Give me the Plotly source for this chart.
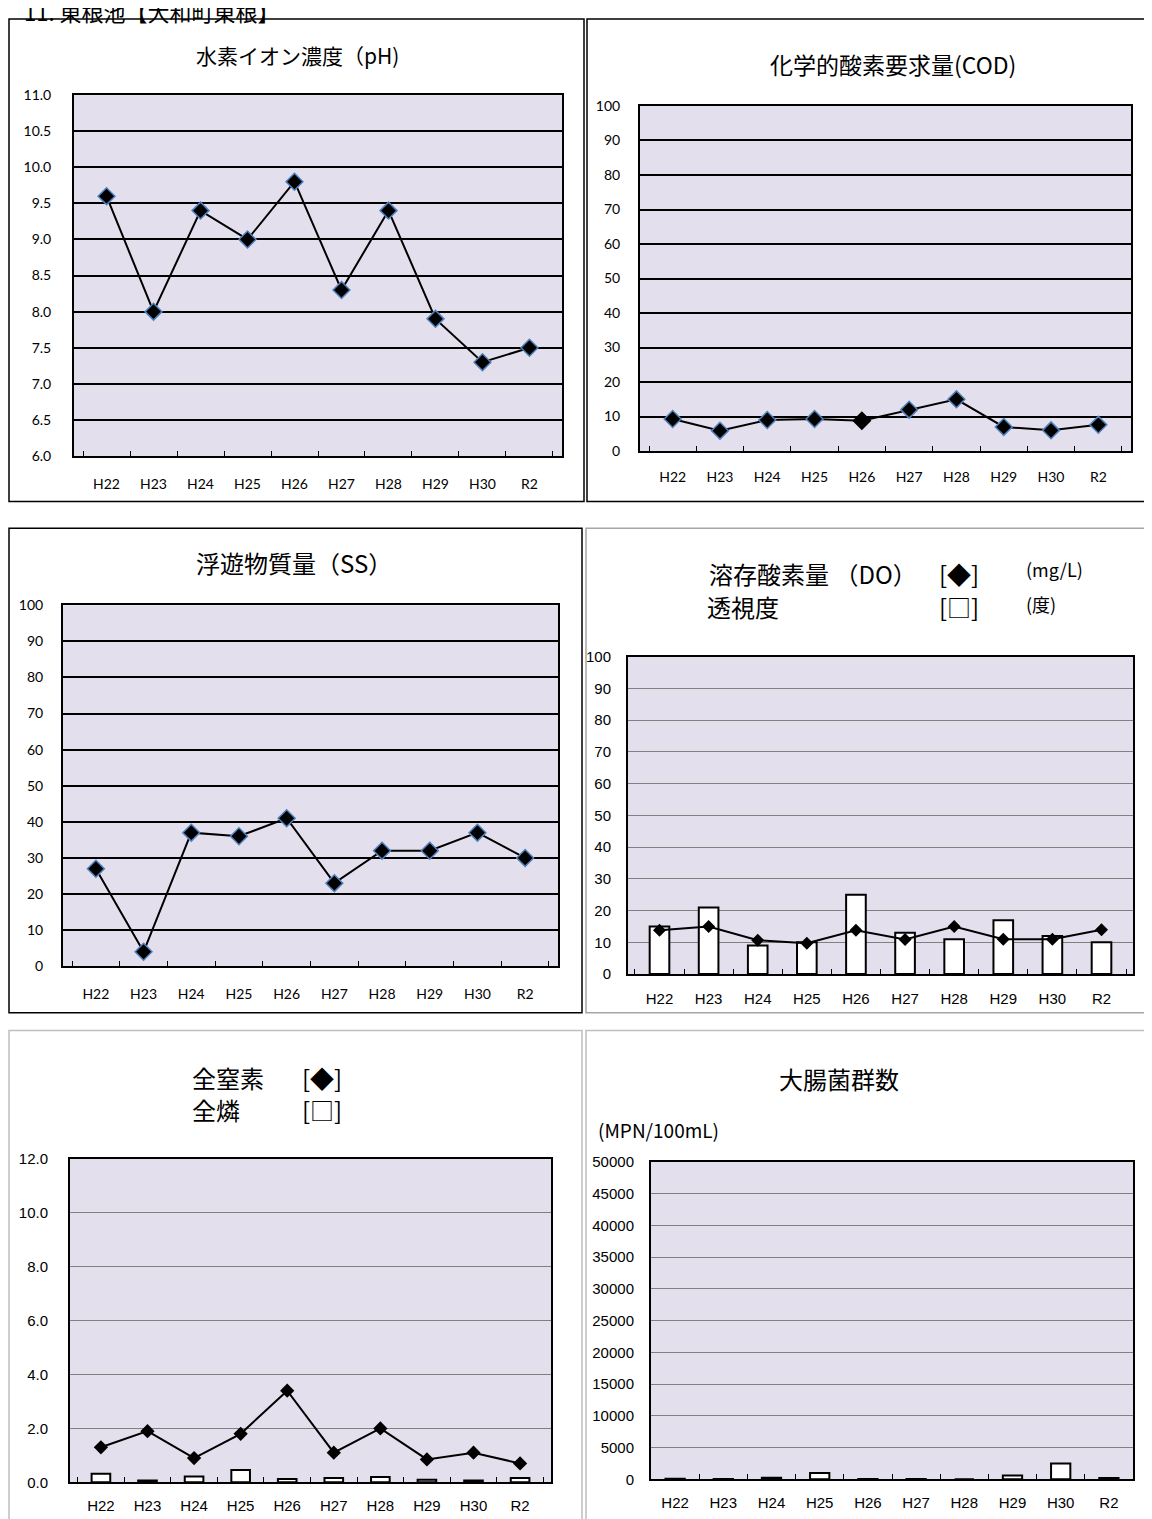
"""
Water quality trend panels for 東根池 (H22 - R2).

Six small charts laid out on one page, matching the printed report layout.
"""

import plotly.graph_objects as go

W, H = 1152, 1519
PAGE_MARGIN = 8  # default body margin of the html page
FW, FH = W - PAGE_MARGIN, H - PAGE_MARGIN

years = ['H22', 'H23', 'H24', 'H25', 'H26', 'H27', 'H28', 'H29', 'H30', 'R2']

ph = [9.6, 8.0, 9.4, 9.0, 9.8, 8.3, 9.4, 7.9, 7.3, 7.5]
cod = [9.3, 5.9, 9.0, 9.3, 8.8, 12.0, 15.0, 7.0, 6.0, 7.6]
ss = [27, 4, 37, 36, 41, 23, 32, 32, 37, 30]
do = [13.8, 15.0, 10.7, 9.7, 13.8, 10.9, 15.0, 11.0, 11.0, 14.0]
transparency = [15, 21, 9, 10, 25, 13, 11, 17, 12, 10]
total_n = [1.3, 1.9, 0.9, 1.8, 3.4, 1.1, 2.0, 0.85, 1.1, 0.7]
total_p = [0.32, 0.07, 0.22, 0.46, 0.12, 0.16, 0.20, 0.10, 0.07, 0.16]
coliform = [100, 50, 250, 1000, 50, 50, 0, 600, 2500, 200]

LAVENDER = '#E4DFEC'
BLUE_EDGE = '#4F81BD'
CJK = 'Noto Sans CJK JP'
TICK_A = 'Lato'              # ticks on the upper three panels
TICK_B = 'Liberation Sans'   # ticks on the lower three panels


def px(x):
    """Window pixel -> paper x (the figure sits after the body margin)."""
    return (x - PAGE_MARGIN) / FW


def py(y):
    return 1 - (y - PAGE_MARGIN) / FH


fig = go.Figure()


def setup_axes(n, box, yrange, dtick, fmt, grid_color, grid_width, font, fsize, ystand, xstand):
    """Configure the n-th x/y axis pair; box is (left, top, right, bottom) in window pixels."""
    left, top, right, bottom = box
    sfx = '' if n == 1 else str(n)
    fig.layout['xaxis' + sfx] = dict(
        domain=[px(left), px(right)], anchor='y' + sfx,
        type='category', showgrid=False,
        showline=True, linecolor='black', linewidth=2, mirror=True,
        ticks='inside', tickson='boundaries', ticklen=5, tickcolor='black', tickwidth=1,
        ticklabelstandoff=xstand,
        tickfont=dict(family=font, size=fsize, color='black'),
        fixedrange=True,
    )
    fig.layout['yaxis' + sfx] = dict(
        domain=[py(bottom), py(top)], anchor='x' + sfx,
        range=yrange, dtick=dtick, tick0=yrange[0], tickformat=fmt,
        showgrid=True, gridcolor=grid_color, gridwidth=grid_width,
        showline=True, linecolor='black', linewidth=2, mirror=True,
        ticks='', zeroline=False, ticklabelstandoff=ystand,
        tickfont=dict(family=font, size=fsize, color='black'),
        fixedrange=True,
    )


def add_line(n, values, edge=BLUE_EDGE, edge_width=1.5, size=13):
    sfx = '' if n == 1 else str(n)
    fig.add_trace(go.Scatter(
        x=years, y=values, mode='lines+markers',
        line=dict(color='black', width=2),
        marker=dict(symbol='diamond', size=size, color='black',
                    line=dict(color=edge, width=edge_width)),
        xaxis='x' + sfx, yaxis='y' + sfx, showlegend=False,
    ))


def add_bars(n, values):
    sfx = '' if n == 1 else str(n)
    fig.add_trace(go.Bar(
        x=years, y=values, width=0.4,
        marker=dict(color='white', line=dict(color='black', width=2)),
        xaxis='x' + sfx, yaxis='y' + sfx, showlegend=False,
    ))


def frame(x0, y0, x1, y1, color):
    fig.add_shape(type='rect', xref='paper', yref='paper',
                  x0=px(x0), x1=px(x1), y0=py(y1), y1=py(y0),
                  line=dict(color=color, width=1.5), fillcolor='rgba(0,0,0,0)')


def label(text, x, y, size=20, xanchor='center', family=CJK):
    fig.add_annotation(text=text, x=px(x), y=py(y), xref='paper', yref='paper',
                       xanchor=xanchor, yanchor='middle', showarrow=False,
                       font=dict(family=family, size=size, color='black'))


# Panel frames (right/bottom edges run off the page in the source)
frame(9, 10, 584, 498, 'black')
frame(587, 10, 1151, 498, 'black')
frame(9, 525, 582, 1015, 'black')
frame(586, 525, 1151, 1015, '#A6A6A6')
frame(9, 1033, 582, 1535, '#BFBFBF')
frame(586, 1033, 1151, 1535, '#BFBFBF')

# 1: pH
setup_axes(1, (74, 87, 562, 452), [6, 11], 0.5, '.1f', 'black', 2, TICK_A, 14, 18, 14)
add_line(1, ph)
label('水素イオン濃度（pH)', 297, 46, size=21)

# 2: COD (the H26 point has no blue edge in the source)
setup_axes(2, (640, 98, 1131, 447), [0, 100], 10, 'd', 'black', 2, TICK_A, 14, 15, 12)
cod_edges = [BLUE_EDGE if yr != 'H26' else 'black' for yr in years]
add_line(2, cod, edge=cod_edges)
label('化学的酸素要求量(COD)', 893, 56, size=23)

# 3: SS
setup_axes(3, (63, 603, 558, 968), [0, 100], 10, 'd', 'black', 2, TICK_A, 14, 15, 14)
add_line(3, ss)
label('浮遊物質量（SS）', 294, 560, size=24)

# 4: DO and transparency
setup_axes(4, (628, 655, 1133, 976), [0, 100], 10, 'd', '#808080', 1, TICK_B, 15, 12, 10)
add_bars(4, transparency)
add_line(4, do, edge='black', edge_width=0, size=10)
label('溶存酸素量 （DO）', 707, 571, size=24, xanchor='left')
label('[◆]', 937, 571, size=24, xanchor='left')
label('(mg/L)', 1024, 566, size=18, xanchor='left')
label('透視度', 705, 604, size=24, xanchor='left')
label('[□]', 937, 604, size=24, xanchor='left')
label('(度)', 1024, 602, size=18, xanchor='left')

# 5: total nitrogen and phosphorus
setup_axes(5, (70, 1163, 551, 1490), [0, 12], 2, '.1f', '#808080', 1, TICK_B, 15, 17, 9)
add_bars(5, total_p)
add_line(5, total_n, edge='black', edge_width=0, size=11)
label('全窒素', 190, 1081, size=24, xanchor='left')
label('[◆]', 300, 1081, size=24, xanchor='left')
label('全燐', 190, 1113, size=24, xanchor='left')
label('[□]', 300, 1113, size=24, xanchor='left')

# 6: coliform count
setup_axes(6, (651, 1166, 1133, 1487), [0, 50000], 5000, 'd', '#808080', 1, TICK_B, 15, 12, 9)
add_bars(6, coliform)
label('大腸菌群数', 839, 1082, size=24)
label('(MPN/100mL)', 596, 1133, size=19, xanchor='left')

# Page heading, cut off by the top edge in the source
label('11. 東根池【大和町東根】', 22, 2, size=22, xanchor='left')

fig.update_layout(
    width=FW, height=FH,
    margin=dict(l=0, r=0, t=0, b=0),
    paper_bgcolor='white',
    plot_bgcolor=LAVENDER,
    bargap=0.6,
    showlegend=False,
)

fig.write_html("out.html")
